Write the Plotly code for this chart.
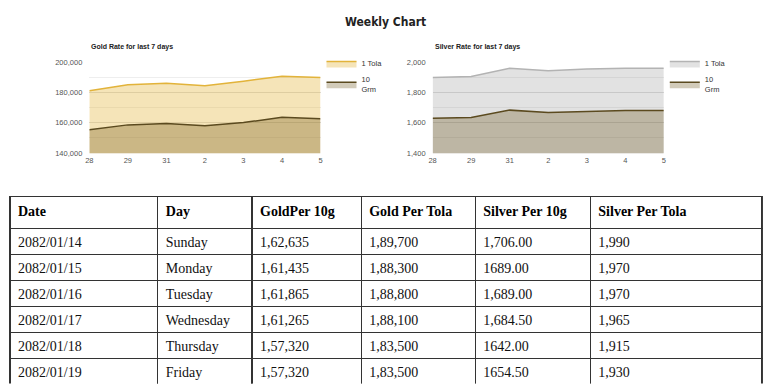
import plotly.graph_objects as go

# ---- chart data ----
days = ["28", "29", "31", "2", "3", "4", "5"]
gold_tola = [181100, 185000, 186000, 184400, 187300, 190600, 189700]
gold_10g = [155400, 158600, 159500, 158000, 160100, 163600, 162635]
silver_tola = [1897, 1905, 1959, 1942, 1953, 1959, 1958]
silver_10g = [1629, 1634, 1683, 1668, 1674, 1681, 1681]
gold_ticks = [140000, 160000, 180000, 200000]
silver_ticks = [1400, 1600, 1800, 2000]

# ---- table data ----
col_headers = ["Date", "Day", "GoldPer 10g", "Gold Per Tola", "Silver Per 10g", "Silver Per Tola"]
dates = ["2082/01/14", "2082/01/15", "2082/01/16", "2082/01/17", "2082/01/18", "2082/01/19"]
weekdays = ["Sunday", "Monday", "Tuesday", "Wednesday", "Thursday", "Friday"]
gold_per_10g = ["1,62,635", "1,61,435", "1,61,865", "1,61,265", "1,57,320", "1,57,320"]
gold_per_tola = ["1,89,700", "1,88,300", "1,88,800", "1,88,100", "1,83,500", "1,83,500"]
silver_per_10g = ["1,706.00", "1689.00", "1,689.00", "1,684.50", "1642.00", "1654.50"]
silver_per_tola = ["1,990", "1,970", "1,970", "1,965", "1,915", "1,930"]

W, H = 768, 389
def px_x(v):
    return v / W
def px_y(v):
    return 1 - v / H

SANS = "Liberation Sans, Arial, sans-serif"
SERIF = "Liberation Serif, Times New Roman, serif"

GOLD_LINE = "#e2b33a"
GOLD_FILL = "rgba(226,179,58,0.36)"
DARK_LINE = "#5b4a1f"
DARK_FILL = "rgba(95,68,5,0.28)"
SILVER_LINE = "#b3b3b3"
SILVER_FILL = "rgba(150,150,150,0.28)"

fig = go.Figure()

# Gold chart
fig.add_trace(go.Scatter(x=days, y=gold_tola, name="1 Tola", mode="lines",
                         line=dict(color=GOLD_LINE, width=1.5), fill="tozeroy",
                         fillcolor=GOLD_FILL, xaxis="x", yaxis="y", legend="legend"))
fig.add_trace(go.Scatter(x=days, y=gold_10g, name="10<br>Grm", mode="lines",
                         line=dict(color=DARK_LINE, width=1.5), fill="tozeroy",
                         fillcolor=DARK_FILL, xaxis="x", yaxis="y", legend="legend"))
# Silver chart
fig.add_trace(go.Scatter(x=days, y=silver_tola, name="1 Tola", mode="lines",
                         line=dict(color=SILVER_LINE, width=1.5), fill="tozeroy",
                         fillcolor=SILVER_FILL, xaxis="x2", yaxis="y2", legend="legend2"))
fig.add_trace(go.Scatter(x=days, y=silver_10g, name="10<br>Grm", mode="lines",
                         line=dict(color=DARK_LINE, width=1.5), fill="tozeroy",
                         fillcolor=DARK_FILL, xaxis="x2", yaxis="y2", legend="legend2"))

# Table
fig.add_trace(go.Table(
    domain=dict(x=[px_x(6), px_x(764)], y=[px_y(389), px_y(197)]),
    columnwidth=[149, 95, 110, 115, 116, 173],
    header=dict(values=["<b>%s</b>" % h for h in col_headers],
                height=32, align="left", fill_color="white",
                line=dict(color="#333333", width=1.3),
                font=dict(family=SERIF, size=14, color="#000000")),
    cells=dict(values=[dates, weekdays, gold_per_10g, gold_per_tola, silver_per_10g, silver_per_tola],
               height=26, align="left", fill_color="white",
               line=dict(color="#333333", width=1.3),
               font=dict(family=SERIF, size=14, color="#111111")),
))

yaxis_common = dict(showline=False, zeroline=False, gridcolor="#dcdcdc", gridwidth=1,
                     ticks="", tickfont=dict(family=SANS, size=7.5, color="#555555"),
                     ticklabelstandoff=6, fixedrange=True,
                     minor=dict(showgrid=True, gridcolor="#eeeeee", gridwidth=1))
xaxis_common = dict(type="category", range=[0, 6], showgrid=False, showline=False,
                    zeroline=False, ticks="", tickfont=dict(family=SANS, size=7.5, color="#555555"),
                    ticklabelstandoff=1, fixedrange=True)

fig.update_layout(
    width=W, height=H,
    margin=dict(l=0, r=0, t=0, b=0),
    paper_bgcolor="white", plot_bgcolor="white",
    showlegend=True,
    xaxis=dict(domain=[px_x(86), px_x(319)], anchor="y", **xaxis_common),
    yaxis=dict(domain=[px_y(152.7), px_y(59.3)], anchor="x", range=[140000, 200000],
               tickvals=gold_ticks, tickformat=",", minor_dtick=10000, **yaxis_common),
    xaxis2=dict(domain=[px_x(432), px_x(665)], anchor="y2", **xaxis_common),
    yaxis2=dict(domain=[px_y(152.7), px_y(59.3)], anchor="x2", range=[1400, 2000],
                tickvals=silver_ticks, tickformat=",", minor_dtick=100, **yaxis_common),
    legend=dict(x=px_x(320), y=px_y(46), xanchor="left", yanchor="top",
                font=dict(family=SANS, size=7.5, color="#333333"), itemwidth=30,
                tracegroupgap=0, bgcolor="rgba(0,0,0,0)"),
    legend2=dict(x=px_x(666), y=px_y(46), xanchor="left", yanchor="top",
                 font=dict(family=SANS, size=7.5, color="#333333"), itemwidth=30,
                 tracegroupgap=0, bgcolor="rgba(0,0,0,0)"),
    annotations=[
        dict(text="<b>Weekly Chart</b>", x=0.5, y=px_y(18), xref="paper", yref="paper",
             xanchor="center", yanchor="middle", showarrow=False,
             font=dict(family="DejaVu Sans Condensed, sans-serif", size=12, color="#222222")),
        dict(text="<b>Gold Rate for last 7 days</b>", x=px_x(86), y=px_y(44.5), xref="paper", yref="paper",
             xanchor="left", yanchor="middle", showarrow=False,
             font=dict(family=SANS, size=7, color="#222222")),
        dict(text="<b>Silver Rate for last 7 days</b>", x=px_x(432), y=px_y(44.5), xref="paper", yref="paper",
             xanchor="left", yanchor="middle", showarrow=False,
             font=dict(family=SANS, size=7, color="#222222")),
    ],
)

fig.write_html("out.html", config={"displayModeBar": False},
               post_script="document.body.style.margin='0px';document.body.style.padding='0px';")
